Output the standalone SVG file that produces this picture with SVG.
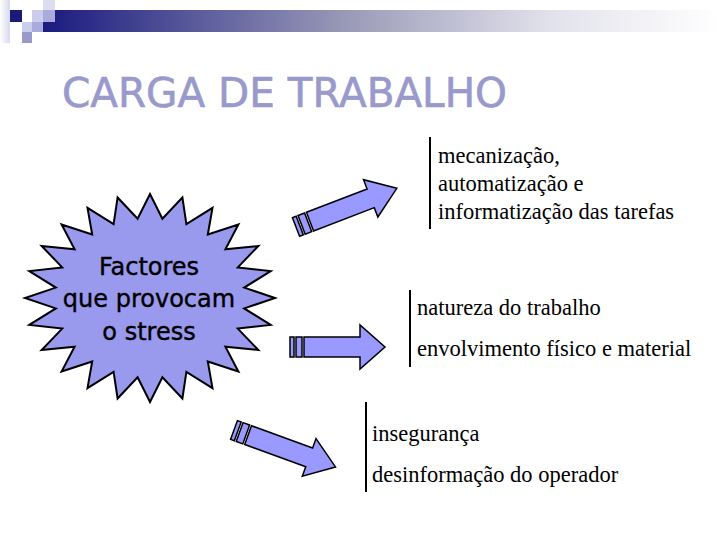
<svg xmlns="http://www.w3.org/2000/svg" width="720" height="540" viewBox="0 0 720 540">
  <defs>
    <linearGradient id="bar" x1="0" y1="0" x2="1" y2="0">
      <stop offset="0" stop-color="#1a1a80"/>
      <stop offset="0.45" stop-color="#9a9ab8"/>
      <stop offset="0.75" stop-color="#e2e2ec"/>
      <stop offset="1" stop-color="#ffffff"/>
    </linearGradient>
    <linearGradient id="strip" x1="0" y1="0" x2="1" y2="0">
      <stop offset="0" stop-color="#ffffff"/>
      <stop offset="1" stop-color="#d8d8ee"/>
    </linearGradient>
  </defs>
  <style>
    .arr { fill: #9999ff; stroke: #000; stroke-width: 1.5; stroke-linejoin: miter; }
    .item { font-family: "Liberation Serif", "Times New Roman", "DejaVu Serif", serif; font-size: 22.5px; fill: #000; }
    .vbar { stroke: #000; stroke-width: 2; }
    .star-text { font-family: "DejaVu Sans", "Comic Sans MS", sans-serif; font-size: 24px; fill: #000; stroke: #000; stroke-width: 0.4; text-anchor: middle; }
  </style>

  <g id="header">
    <rect x="0" y="0" width="10" height="43" fill="url(#strip)"/>
    <rect x="43" y="10" width="677" height="22" fill="url(#bar)"/>
    <rect x="10" y="10" width="12" height="12" fill="#1a1a7a"/>
    <rect x="22" y="22" width="10" height="10" fill="#ccccee"/>
    <rect x="22" y="32" width="10" height="11" fill="#9999cc"/>
    <rect x="32" y="10" width="11" height="12" fill="#ccccee"/>
    <rect x="32" y="22" width="11" height="10" fill="#aaaadd"/>
    <rect x="43" y="0" width="12" height="10" fill="#ddddf0"/>
    <rect x="43" y="10" width="12" height="12" fill="#aaaadd"/>
  </g>

  <g id="title">
    <text x="62" y="107" font-family="DejaVu Sans, Comic Sans MS, sans-serif" font-size="40" fill="#9999cc" stroke="#9999cc" stroke-width="0.6" textLength="445" lengthAdjust="spacingAndGlyphs">CARGA DE TRABALHO</text>
  </g>

  <g id="star">
    <polygon fill="#9999ee" stroke="#000" stroke-width="2" stroke-linejoin="miter"
      points="150,194 162.4,218.7 182.4,197.5 186.4,224.1 212.5,207.9 207.8,234.5 238.4,224.5 225.4,249.3 258.3,246 237.8,267.4 270.7,271.1 244.2,287.6 275,298 244.2,308.4 270.7,324.9 237.8,328.6 258.3,350 225.4,346.7 238.4,371.5 207.8,361.5 212.5,388.1 186.4,371.9 182.4,398.5 162.4,377.3 150,402 137.6,377.3 117.6,398.5 113.6,371.9 87.5,388.1 92.2,361.5 61.6,371.5 74.6,346.7 41.7,350 62.2,328.6 29.3,324.9 55.8,308.4 25,298 55.8,287.6 29.3,271.1 62.2,267.4 41.7,246 74.6,249.3 61.6,224.5 92.2,234.5 87.5,207.9 113.6,224.1 117.6,197.5 137.6,218.7"/>
    <text class="star-text" x="149" y="275">Factores</text>
    <text class="star-text" x="149" y="307">que provocam</text>
    <text class="star-text" x="149" y="340">o stress</text>
  </g>

  <g id="connectors">
    <g id="arrow-up" transform="translate(296,227) rotate(-21)">
      <rect class="arr" x="0" y="-10" width="4" height="20"/>
      <rect class="arr" x="6" y="-10" width="7" height="20"/>
      <polygon class="arr" points="15,-10 80,-10 80,-20 108,0 80,20 80,10 15,10"/>
    </g>
    <g id="arrow-mid" transform="translate(290,347)">
      <rect class="arr" x="0" y="-10" width="4" height="20"/>
      <rect class="arr" x="6" y="-10" width="6" height="20"/>
      <polygon class="arr" points="14,-10 70,-10 70,-22 95,0 70,22 70,10 14,10"/>
    </g>
    <g id="arrow-down" transform="translate(234,430) rotate(20)">
      <rect class="arr" x="0" y="-10" width="4" height="20"/>
      <rect class="arr" x="6" y="-10" width="7" height="20"/>
      <polygon class="arr" points="15,-10 80,-10 80,-20 108,0 80,20 80,10 15,10"/>
    </g>
  </g>

  <g id="group-top">
    <line class="vbar" x1="430" y1="137" x2="430" y2="229"/>
    <text class="item" x="438" y="163">mecanização,</text>
    <text class="item" x="438" y="191">automatização e</text>
    <text class="item" x="438" y="219">informatização das tarefas</text>
  </g>

  <g id="group-mid">
    <line class="vbar" x1="410" y1="290" x2="410" y2="367"/>
    <text class="item" x="417" y="315">natureza do trabalho</text>
    <text class="item" x="417" y="356">envolvimento físico e material</text>
  </g>

  <g id="group-bottom">
    <line class="vbar" x1="366" y1="402" x2="366" y2="492"/>
    <text class="item" x="372" y="441">insegurança</text>
    <text class="item" x="372" y="482">desinformação do operador</text>
  </g>
</svg>
